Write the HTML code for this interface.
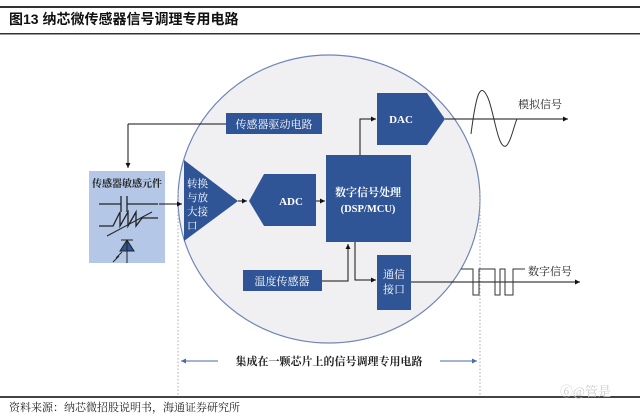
<!DOCTYPE html>
<html><head><meta charset="utf-8"><style>
html,body{margin:0;padding:0;background:#fff}
svg{display:block}
text{font-family:"Liberation Serif","Noto Serif CJK SC","Noto Sans CJK SC",serif}
</style></head><body>
<svg width="640" height="418" viewBox="0 0 640 418" xmlns="http://www.w3.org/2000/svg">
<defs><marker id="a" markerWidth="6" markerHeight="6" refX="5" refY="3" orient="auto"><path d="M0,0.5 L5,3 L0,5.5z" fill="#111"/></marker>
<marker id="b" markerWidth="6" markerHeight="6" refX="5" refY="3" orient="auto"><path d="M0,0.5 L5,3 L0,5.5z" fill="#4a6aa8"/></marker></defs>
<rect x="0" y="6" width="640" height="2" fill="#333"/>
<text x="9" y="24" font-size="14" font-weight="bold" style="font-family:'Liberation Sans','Noto Sans CJK SC',sans-serif" fill="#111">图13 纳芯微传感器信号调理专用电路</text>
<rect x="0" y="33" width="640" height="1.5" fill="#333"/>
<ellipse cx="329" cy="199" rx="151" ry="144" fill="#f0f0f2" stroke="#6f86b8" stroke-width="1.2"/>
<line x1="178" y1="190" x2="178" y2="398" stroke="#aaa" stroke-dasharray="1.5,2"/>
<line x1="480" y1="190" x2="480" y2="398" stroke="#aaa" stroke-dasharray="1.5,2"/>
<rect x="89" y="171" width="76" height="92" fill="#b4c7e7"/>
<text x="127" y="187" font-size="10" font-weight="bold" text-anchor="middle" fill="#222">传感器敏感元件</text>
<path d="M99,204 H121 M121,196 V212 M127,196 V212 M127,204 H158" stroke="#222" stroke-width="1.3" fill="none"/>
<path d="M99,226 H113 L120,212 V226 L128,212 V226 L136,212 V226 L142,218 H158" stroke="#222" stroke-width="1.3" fill="none"/>
<line x1="107" y1="236" x2="152" y2="212" stroke="#222" stroke-width="1"/>
<path d="M127,240 V263 M121,240 H133 M120,251 L127,240 L134,251z" stroke="#222" fill="#2f5597"/>
<path d="M113,262 L119,256 M116,258 L122,252" stroke="#222"/>
<path d="M128,124 H226" stroke="#111" fill="none"/>
<path d="M128,124 V168" stroke="#111" fill="none" marker-end="url(#a)"/>
<path d="M159,204 H182" stroke="#111" marker-end="url(#a)"/>
<rect x="226" y="113" width="96" height="21" fill="#2f5597"/>
<text x="274" y="128" font-size="11" fill="#fff" text-anchor="middle">传感器驱动电路</text>
<path d="M184,160 L238,201 L184,241z" fill="#2f5597"/>
<text font-size="10.5" fill="#fff"><tspan x="187" y="187">转换</tspan><tspan x="187" y="201">与放</tspan><tspan x="187" y="215">大接</tspan><tspan x="187" y="229">口</tspan></text>
<path d="M238,201 H247" stroke="#111" marker-end="url(#a)"/>
<path d="M249,201 L264,174 H316 V226 H264z" fill="#2f5597"/>
<text x="291" y="205" font-size="11" font-weight="bold" fill="#fff" text-anchor="middle">ADC</text>
<path d="M316,201 H325" stroke="#111" marker-end="url(#a)"/>
<rect x="326" y="155" width="85" height="87" fill="#2f5597"/>
<text x="368" y="196" font-size="11" font-weight="bold" fill="#fff" text-anchor="middle">数字信号处理</text>
<text x="368" y="212" font-size="10.5" font-weight="bold" fill="#fff" text-anchor="middle">(DSP/MCU)</text>
<path d="M360,155 V119 H376" stroke="#111" fill="none" marker-end="url(#a)"/>
<path d="M377,93 H427 L445,119 L427,145 H377z" fill="#2f5597"/>
<text x="401" y="123" font-size="11" font-weight="bold" fill="#fff" text-anchor="middle">DAC</text>
<path d="M445,119 H568" stroke="#111" marker-end="url(#a)"/>
<path d="M471,134 C476,95 480,80 488,98 C494,112 498,150 506,146 C511,142 514,125 517,119" stroke="#333" fill="none"/>
<text x="518" y="108" font-size="11" fill="#222">模拟信号</text>
<rect x="243" y="270" width="79" height="21" fill="#2f5597"/>
<text x="282" y="285" font-size="11" fill="#fff" text-anchor="middle">温度传感器</text>
<path d="M322,281 H348 V244" stroke="#111" fill="none" marker-end="url(#a)"/>
<path d="M355,242 V280 H376" stroke="#111" fill="none" marker-end="url(#a)"/>
<rect x="377" y="255" width="34" height="55" fill="#2f5597"/>
<text font-size="11" fill="#fff" text-anchor="middle"><tspan x="394" y="278">通信</tspan><tspan x="394" y="293">接口</tspan></text>
<path d="M411,282 H580" stroke="#111" marker-end="url(#a)"/>
<path d="M461,269 H473 V295 H479 V269 H495 V295 H500 V269 H505 V295 H513 V269 H525" stroke="#333" fill="none"/>
<text x="528" y="275" font-size="11" fill="#222">数字信号</text>
<path d="M218,361 H181" stroke="#4a6aa8" marker-end="url(#b)"/>
<path d="M440,361 H477" stroke="#4a6aa8" marker-end="url(#b)"/>
<text x="329" y="365" font-size="11" font-weight="bold" fill="#222" text-anchor="middle">集成在一颗芯片上的信号调理专用电路</text>
<rect x="0" y="396" width="640" height="2" fill="#444"/>
<text x="9" y="411" font-size="11" fill="#222">资料来源：纳芯微招股说明书，海通证券研究所</text>
<text x="560" y="396" font-size="13" fill="#ccc">⑥@管是</text>
</svg>
</body></html>
